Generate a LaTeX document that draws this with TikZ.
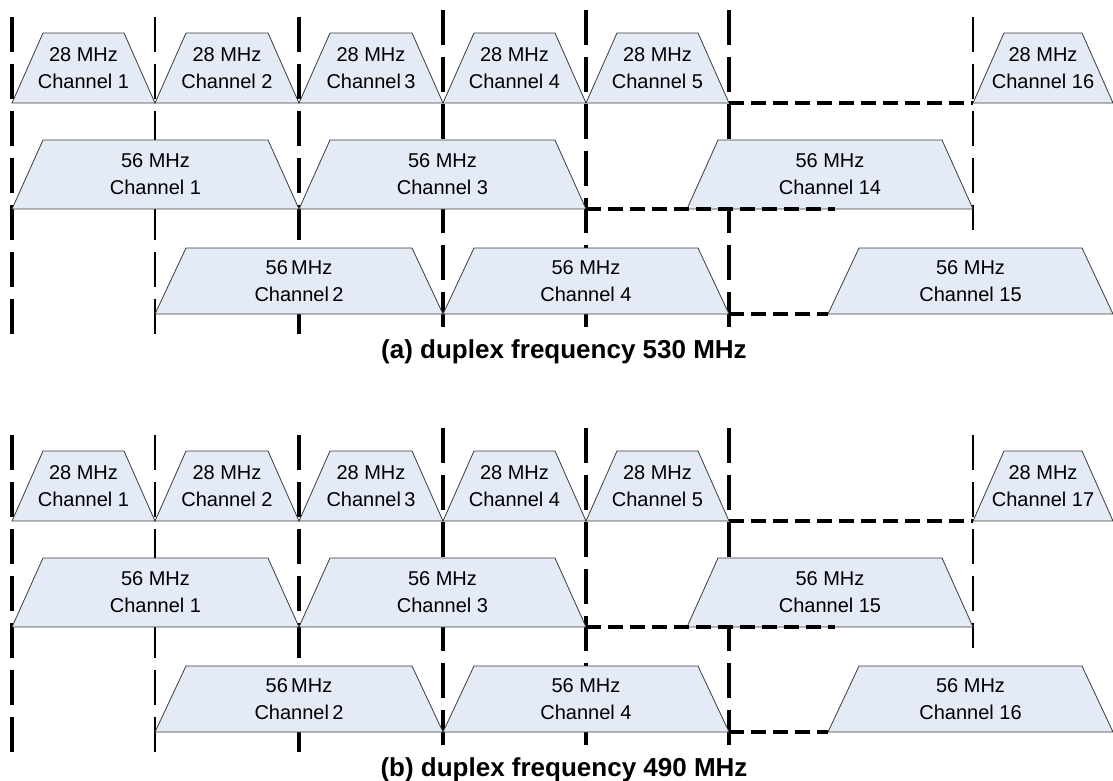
\documentclass[tikz,border=0pt]{standalone}
\usepackage{fontspec}
\setmainfont{Liberation Sans}

\definecolor{bandfill}{RGB}{228,234,246}
\definecolor{bandline}{RGB}{60,60,60}

\tikzset{
    band/.style={draw=bandline,fill=bandfill,line width=0.8pt},
    bandtext/.style={align=center,text=black,font=\fontsize{20}{27}\selectfont},
    gridthick/.style={line width=4pt,dash pattern=on 35pt off 12pt},
    gridthin/.style={line width=1.6pt,dash pattern=on 35pt off 12pt},
    gapline/.style={line width=4pt,dash pattern=on 15pt off 7pt},
    caption/.style={font=\bfseries\fontsize{26}{30}\selectfont}
}

\begin{document}
\begin{tikzpicture}[x=1pt,y=-1pt]
    \pgfmathsetmacro{\slant}{31}
    \useasboundingbox (0,0) rectangle (1113,780);
    % one channel: name, left, right, top, bottom, label
    \providecommand{\band}[6]{
        \draw[band] (#2,#5) -- (#2+\slant,#4) -- (#3-\slant,#4) -- (#3,#5) -- cycle;
        \coordinate (#1-bl) at (#2,#5);
        \coordinate (#1-br) at (#3,#5);
        \node[bandtext] (#1) at ({(#2+#3)/2},{(#4+#5)/2}) {#6};
    }
    % one plan: prefix, shift, last 28 MHz channel, 56 MHz channels, duplex
    \providecommand{\panel}[6]{
        \begin{scope}[shift={(0,#2)}]
        % raster (behind the channels)
        \draw[gridthick] (12,17) -- (12,334);
        \draw[gridthin] (155,17) -- (155,334);
        \draw[gridthick] (299,17) -- (299,334);
        \draw[gridthick] (443,10) -- (443,334);
        \draw[gridthick] (586,10) -- (586,334);
        \draw[gridthick] (729,10) -- (729,334);
        \draw[gridthin] (973,17) -- (973,230);
        % 28 MHz row
        \band{#1-n1}{12}{155}{33}{103}{28 MHz\\Channel 1}
        \band{#1-n2}{155}{299}{33}{103}{28 MHz\\Channel 2}
        \band{#1-n3}{299}{443}{33}{103}{28 MHz\\Channel\,3}
        \band{#1-n4}{443}{586}{33}{103}{28 MHz\\Channel 4}
        \band{#1-n5}{586}{729}{33}{103}{28 MHz\\Channel 5}
        \band{#1-nlast}{973}{1113}{33}{103}{28 MHz\\Channel #3}
        % 56 MHz, odd
        \band{#1-w1}{12}{299}{140}{209}{56 MHz\\Channel 1}
        \band{#1-w3}{299}{586}{140}{209}{56 MHz\\Channel 3}
        \band{#1-wa}{687}{973}{140}{209}{56 MHz\\Channel #4}
        % 56 MHz, even
        \band{#1-w2}{155}{443}{248}{314}{56\,MHz\\Channel\,2}
        \band{#1-w4}{443}{729}{248}{314}{56 MHz\\Channel 4}
        \band{#1-wb}{828}{1113}{248}{314}{56 MHz\\Channel #5}
        % unused spectrum
        \coordinate (#1-gapend) at (835,209);
        \draw[gapline] (#1-n5-br) -- (#1-nlast-bl);
        \draw[gapline] (#1-w3-br) -- (#1-gapend);
        \draw[gapline] (#1-w4-br) -- (#1-wb-bl);
        \node[caption] (#1-cap) at (564,352) {(#1) duplex frequency #6 MHz};
        \end{scope}
    }
    \panel{a}{0}{16}{14}{15}{530}
    \panel{b}{418}{17}{15}{16}{490}
\end{tikzpicture}
\end{document}
